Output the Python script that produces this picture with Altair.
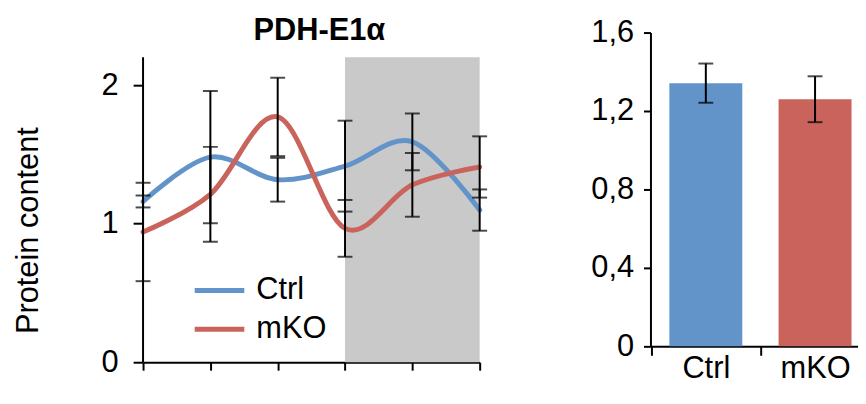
import altair as alt
import pandas as pd

# ---- data ----
time_idx = [0, 1, 2, 3, 4, 5]
ctrl_mean = [1.16, 1.48, 1.317, 1.415, 1.59, 1.098]
ctrl_err = [0.043, 0.477, 0.158, 0.328, 0.205, 0.149]
mko_mean = [0.94, 1.212, 1.77, 0.966, 1.28, 1.409]
mko_err = [0.355, 0.342, 0.283, 0.205, 0.23, 0.221]

groups = ["Ctrl", "mKO"]
bar_mean = [1.342, 1.26]
bar_err = [0.10, 0.117]

shade_start, shade_end, shade_top = 3, 5, 2.2
left_ticks = [0, 1, 2]
right_ticks = [0, 0.4, 0.8, 1.2, 1.6]

colors = ["#6294C9", "#CA635C"]
FONT = "Liberation Sans"
FS = 31

rows = []
for g, means, errs in [("Ctrl", ctrl_mean, ctrl_err), ("mKO", mko_mean, mko_err)]:
    for t, m, e in zip(time_idx, means, errs):
        rows.append({"t": t, "group": g, "mean": m, "lo": m - e, "hi": m + e})
line_df = pd.DataFrame(rows)
shade_df = pd.DataFrame({"x": [shade_start], "x2": [shade_end], "y": [0], "y2": [shade_top]})
axis_df = pd.DataFrame({"x": [0], "y": [0], "y2": [shade_top]})
bar_df = pd.DataFrame({
    "group": groups,
    "mean": bar_mean,
    "lo": [m - e for m, e in zip(bar_mean, bar_err)],
    "hi": [m + e for m, e in zip(bar_mean, bar_err)],
})

color_scale = alt.Scale(domain=groups, range=colors)
no_frame = alt.ViewBackground(stroke="transparent", strokeWidth=0)

# ---- left panel ----
xs = alt.Scale(domain=[0, 5], nice=False, zero=False)
ys = alt.Scale(domain=[0, 2.379], nice=False)
xa = alt.Axis(values=time_idx, labels=False, tickSize=8, tickWidth=2, domainWidth=2,
              title=None, grid=False)
ya = alt.Axis(values=left_ticks, domain=False, tickSize=10, tickWidth=2, labelPadding=15,
              labelFontSize=FS, format="d", grid=False,
              title="Protein content", titleFontSize=FS, titleFontWeight="normal",
              titleX=-99, titleY=199)

shade = alt.Chart(shade_df).mark_rect(color="#c9c9c9").encode(
    x=alt.X("x:Q", scale=xs, axis=xa), x2="x2:Q",
    y=alt.Y("y:Q", scale=ys, axis=ya), y2="y2:Q",
)

yaxis_line = alt.Chart(axis_df).mark_rule(color="black", strokeWidth=2).encode(
    x=alt.X("x:Q", scale=xs, axis=xa), y=alt.Y("y:Q", scale=ys, axis=ya), y2="y2:Q"
)

lines = alt.Chart(line_df).mark_line(interpolate="cardinal", strokeWidth=5, strokeCap="round").encode(
    x=alt.X("t:Q", scale=xs, axis=xa),
    y=alt.Y("mean:Q", scale=ys, axis=ya),
    color=alt.Color("group:N", scale=color_scale,
                    legend=alt.Legend(orient="none", legendX=53.5, legendY=236.3, title=None,
                                      symbolType="M-1.19,0H1.19", symbolSize=1764,
                                      symbolStrokeWidth=5,
                                      labelFontSize=FS, labelFont=FONT, labelColor="black",
                                      padding=0, rowPadding=0, labelOffset=13.5)),
)

err_rule = alt.Chart(line_df).mark_rule(color="black", strokeWidth=2).encode(
    x=alt.X("t:Q", scale=xs, axis=xa), y=alt.Y("lo:Q", scale=ys, axis=ya), y2="hi:Q"
)
err_caps = alt.Chart(line_df).transform_fold(["lo", "hi"], as_=["k", "v"]).mark_tick(
    orient="horizontal", size=15, thickness=2, color="black"
).encode(x=alt.X("t:Q", scale=xs, axis=xa), y=alt.Y("v:Q", scale=ys, axis=ya))

left = alt.layer(shade, yaxis_line, lines, err_rule, err_caps).properties(
    width=339, height=332, view=no_frame,
    title=alt.TitleParams("PDH-E1α", fontSize=FS, fontWeight="bold", font=FONT,
                          offset=-14.5, dx=8, anchor="middle", color="black"),
)

# ---- right panel ----
bx = alt.Scale(domain=groups, paddingInner=0.332, paddingOuter=0.116, align=0.745)
by = alt.Scale(domain=[0, 1.6], nice=False)
bxa = alt.Axis(labelAngle=0, bandPosition=0, tickOffset=-18.26, labelOffset=18.26,
               tickSize=9, tickWidth=2, domainWidth=2, labelBaseline="middle",
               labelPadding=13.2, labelFontSize=FS, title=None, grid=False)
bya = alt.Axis(values=right_ticks, tickSize=7, tickWidth=2, domainWidth=2,
               labelPadding=10, labelFontSize=FS, title=None, grid=False,
               labelExpr="datum.value == 0 ? '0' : replace(format(datum.value, '.1f'), '.', ',')")

bars = alt.Chart(bar_df).mark_bar().encode(
    x=alt.X("group:N", scale=bx, sort=groups, axis=bxa),
    y=alt.Y("mean:Q", scale=by, axis=bya),
    color=alt.Color("group:N", scale=color_scale, legend=None),
)
bar_rule = alt.Chart(bar_df).mark_rule(color="black", strokeWidth=2).encode(
    x=alt.X("group:N", scale=bx, sort=groups, axis=bxa),
    y=alt.Y("lo:Q", scale=by, axis=bya), y2="hi:Q"
)
bar_caps = alt.Chart(bar_df).transform_fold(["lo", "hi"], as_=["k", "v"]).mark_tick(
    orient="horizontal", size=15, thickness=2, color="black"
).encode(x=alt.X("group:N", scale=bx, sort=groups, axis=bxa),
         y=alt.Y("v:Q", scale=by, axis=bya))

right = alt.layer(bars, bar_rule, bar_caps).properties(width=209, height=316, view=no_frame)

chart = alt.hconcat(left, right, spacing=172, bounds="flush").resolve_scale(
    color="independent"
).resolve_legend(color="independent").properties(
    padding={"left": 5, "top": 5.4, "right": 0, "bottom": 0},
    background="white",
).configure_view(stroke="transparent", strokeWidth=0).configure_axis(
    grid=False, domainColor="black", tickColor="black", labelColor="black", titleColor="black",
    labelFont=FONT, titleFont=FONT,
)

chart.save("out.html", embed_options={"renderer": "svg", "actions": False})
